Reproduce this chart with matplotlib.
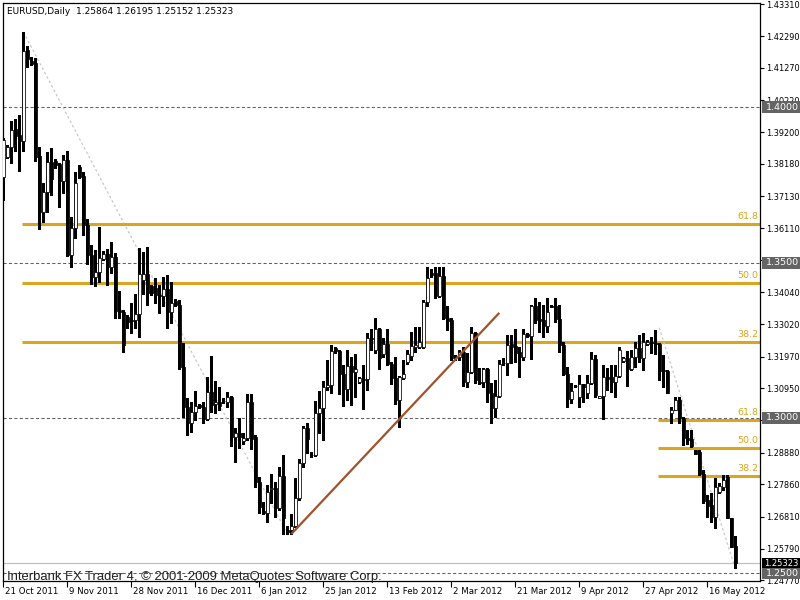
import numpy as np
import matplotlib
matplotlib.use("Agg")
import matplotlib.pyplot as plt
from matplotlib.patches import Rectangle
from matplotlib.transforms import blended_transform_factory

# EURUSD daily bars, 21 Oct 2011 .. 18 May 2012
opens = [
    1.3775, 1.3840, 1.3872, 1.3930, 1.3911, 1.3891, 1.4185, 1.4149, 1.4143, 1.3843,
    1.3663, 1.3727, 1.3824, 1.3827, 1.3817, 1.3762, 1.3830, 1.3524, 1.3611, 1.3808,
    1.3779, 1.3620, 1.3524, 1.3454, 1.3470, 1.3512, 1.3527, 1.3486, 1.3518, 1.3347,
    1.3341, 1.3325, 1.3315, 1.3315, 1.3335, 1.3444, 1.3463, 1.3424, 1.3418, 1.3396,
    1.3392, 1.3415, 1.3341, 1.3376, 1.3364, 1.3164, 1.3035, 1.2983, 1.3019, 1.3041,
    1.3035, 1.2996, 1.3083, 1.3045, 1.3051, 1.3054, 1.3051, 1.3067, 1.2938, 1.2951,
    1.2925, 1.2935, 1.3051, 1.2938, 1.2793, 1.2700, 1.2694, 1.2771, 1.2774, 1.2710,
    1.2813, 1.2639, 1.2639, 1.2652, 1.2742, 1.2855, 1.2967, 1.2880, 1.2880, 1.3016,
    1.3032, 1.3099, 1.3106, 1.3225, 1.3215, 1.3141, 1.3093, 1.3167, 1.3147, 1.3115,
    1.3125, 1.3125, 1.3257, 1.3218, 1.3286, 1.3206, 1.3238, 1.3173, 1.3128, 1.3057,
    1.3128, 1.3180, 1.3199, 1.3228, 1.3228, 1.3228, 1.3373, 1.3467, 1.3467, 1.3392,
    1.3458, 1.3322, 1.3315, 1.3196, 1.3196, 1.3212, 1.3115, 1.3147, 1.3273, 1.3115,
    1.3115, 1.3157, 1.3080, 1.3032, 1.3070, 1.3177, 1.3177, 1.3238, 1.3231, 1.3212,
    1.3196, 1.3270, 1.3264, 1.3360, 1.3318, 1.3315, 1.3296, 1.3361, 1.3360, 1.3318,
    1.3234, 1.3141, 1.3061, 1.3103, 1.3067, 1.3109, 1.3080, 1.3112, 1.3190, 1.3064,
    1.3070, 1.3131, 1.3131, 1.3115, 1.3135, 1.3183, 1.3193, 1.3157, 1.3196, 1.3225,
    1.3193, 1.3238, 1.3244, 1.3241, 1.3238, 1.3154, 1.3151, 1.3015, 1.3025, 1.3057,
    1.2999, 1.2935, 1.2932, 1.2896, 1.2891, 1.2818, 1.2735, 1.2719, 1.2681, 1.2761,
    1.2777, 1.2809, 1.2677, 1.25864,
]
highs = [
    1.3901, 1.3879, 1.3956, 1.3963, 1.3975, 1.4242, 1.4196, 1.4162, 1.4158, 1.3872,
    1.3756, 1.3856, 1.3869, 1.3833, 1.3820, 1.3846, 1.3859, 1.3647, 1.3792, 1.3814,
    1.3792, 1.3641, 1.3557, 1.3540, 1.3614, 1.3537, 1.3544, 1.3566, 1.3531, 1.3407,
    1.3347, 1.3331, 1.3370, 1.3399, 1.3547, 1.3534, 1.3550, 1.3428, 1.3450, 1.3428,
    1.3454, 1.3460, 1.3437, 1.3383, 1.3379, 1.3241, 1.3064, 1.3051, 1.3086, 1.3045,
    1.3051, 1.3131, 1.3199, 1.3119, 1.3099, 1.3064, 1.3083, 1.3070, 1.2967, 1.2999,
    1.2951, 1.3077, 1.3077, 1.2945, 1.2809, 1.2729, 1.2784, 1.2819, 1.2793, 1.2842,
    1.2880, 1.2652, 1.2690, 1.2806, 1.2868, 1.2974, 1.2983, 1.2891, 1.3054, 1.3086,
    1.3119, 1.3186, 1.3234, 1.3228, 1.3218, 1.3170, 1.3218, 1.3196, 1.3206, 1.3131,
    1.3170, 1.3273, 1.3286, 1.3322, 1.3289, 1.3257, 1.3286, 1.3180, 1.3196, 1.3135,
    1.3186, 1.3218, 1.3276, 1.3292, 1.3292, 1.3379, 1.3486, 1.3479, 1.3486, 1.3486,
    1.3486, 1.3360, 1.3322, 1.3202, 1.3218, 1.3228, 1.3209, 1.3292, 1.3276, 1.3160,
    1.3160, 1.3160, 1.3112, 1.3122, 1.3186, 1.3193, 1.3267, 1.3267, 1.3286, 1.3228,
    1.3286, 1.3273, 1.3364, 1.3386, 1.3373, 1.3364, 1.3386, 1.3364, 1.3386, 1.3364,
    1.3244, 1.3164, 1.3112, 1.3106, 1.3138, 1.3109, 1.3138, 1.3212, 1.3202, 1.3070,
    1.3170, 1.3160, 1.3170, 1.3170, 1.3228, 1.3196, 1.3215, 1.3218, 1.3244, 1.3267,
    1.3273, 1.3251, 1.3260, 1.3283, 1.3241, 1.3202, 1.3154, 1.3035, 1.3067, 1.3067,
    1.3003, 1.2960, 1.2960, 1.2896, 1.2896, 1.2832, 1.2752, 1.2758, 1.2806, 1.2790,
    1.2815, 1.2815, 1.2677, 1.26195,
]
lows = [
    1.3701, 1.3837, 1.3820, 1.3859, 1.3795, 1.3859, 1.4130, 1.4136, 1.3827, 1.3608,
    1.3631, 1.3663, 1.3718, 1.3804, 1.3679, 1.3724, 1.3521, 1.3486, 1.3579, 1.3772,
    1.3589, 1.3495, 1.3431, 1.3424, 1.3437, 1.3508, 1.3428, 1.3467, 1.3322, 1.3322,
    1.3212, 1.3289, 1.3273, 1.3289, 1.3260, 1.3399, 1.3364, 1.3396, 1.3370, 1.3337,
    1.3360, 1.3289, 1.3305, 1.3360, 1.3157, 1.3003, 1.2945, 1.2955, 1.2993, 1.3032,
    1.2983, 1.2993, 1.3019, 1.3016, 1.3025, 1.3048, 1.3035, 1.2909, 1.2858, 1.2903,
    1.2916, 1.2928, 1.2900, 1.2777, 1.2694, 1.2690, 1.2665, 1.2726, 1.2681, 1.2703,
    1.2626, 1.2626, 1.2626, 1.2648, 1.2735, 1.2842, 1.2887, 1.2874, 1.2877, 1.2951,
    1.2928, 1.3090, 1.3080, 1.3209, 1.3077, 1.3038, 1.3057, 1.3041, 1.3067, 1.3112,
    1.3029, 1.3090, 1.3218, 1.3209, 1.3157, 1.3196, 1.3170, 1.3109, 1.3045, 1.2970,
    1.3125, 1.3173, 1.3186, 1.3212, 1.3225, 1.3225, 1.3360, 1.3454, 1.3386, 1.3389,
    1.3318, 1.3283, 1.3186, 1.3186, 1.3186, 1.3103, 1.3099, 1.3145, 1.3112, 1.3109,
    1.3099, 1.3051, 1.2982, 1.3003, 1.3067, 1.3170, 1.3138, 1.3177, 1.3180, 1.3131,
    1.3186, 1.3260, 1.3190, 1.3305, 1.3276, 1.3260, 1.3276, 1.3357, 1.3309, 1.3212,
    1.3138, 1.3035, 1.3048, 1.3099, 1.3035, 1.3051, 1.3064, 1.3109, 1.3067, 1.3064,
    1.2996, 1.3090, 1.3083, 1.3067, 1.3131, 1.3180, 1.3103, 1.3154, 1.3164, 1.3180,
    1.3154, 1.3234, 1.3209, 1.3206, 1.3122, 1.3099, 1.3080, 1.2982, 1.3025, 1.2983,
    1.2913, 1.2916, 1.2906, 1.2884, 1.2815, 1.2726, 1.2681, 1.2665, 1.2644, 1.2758,
    1.2768, 1.2677, 1.2584, 1.25152,
]
closes = [
    1.3895, 1.3872, 1.3927, 1.3907, 1.3891, 1.4181, 1.4155, 1.4139, 1.3840, 1.3663,
    1.3727, 1.3824, 1.3769, 1.3814, 1.3762, 1.3830, 1.3524, 1.3611, 1.3756, 1.3775,
    1.3620, 1.3524, 1.3454, 1.3470, 1.3515, 1.3527, 1.3486, 1.3518, 1.3344, 1.3341,
    1.3234, 1.3309, 1.3313, 1.3335, 1.3463, 1.3463, 1.3401, 1.3402, 1.3396, 1.3392,
    1.3415, 1.3341, 1.3370, 1.3364, 1.3164, 1.3035, 1.2983, 1.3019, 1.3038, 1.3035,
    1.2996, 1.3083, 1.3041, 1.3051, 1.3038, 1.3053, 1.3067, 1.2938, 1.2951, 1.2938,
    1.2935, 1.3051, 1.2932, 1.2793, 1.2713, 1.2694, 1.2761, 1.2774, 1.2710, 1.2813,
    1.2677, 1.2632, 1.2652, 1.2742, 1.2855, 1.2967, 1.2932, 1.2879, 1.3016, 1.3032,
    1.3099, 1.3106, 1.3215, 1.3215, 1.3141, 1.3093, 1.3167, 1.3147, 1.3157, 1.3128,
    1.3123, 1.3257, 1.3254, 1.3286, 1.3193, 1.3238, 1.3173, 1.3128, 1.3057, 1.3131,
    1.3141, 1.3206, 1.3231, 1.3234, 1.3244, 1.3373, 1.3450, 1.3460, 1.3392, 1.3458,
    1.3322, 1.3312, 1.3193, 1.3195, 1.3212, 1.3115, 1.3147, 1.3273, 1.3122, 1.3112,
    1.3157, 1.3080, 1.3032, 1.3070, 1.3173, 1.3178, 1.3234, 1.3228, 1.3209, 1.3196,
    1.3270, 1.3264, 1.3360, 1.3315, 1.3312, 1.3296, 1.3341, 1.3357, 1.3318, 1.3234,
    1.3141, 1.3061, 1.3086, 1.3101, 1.3109, 1.3099, 1.3112, 1.3190, 1.3073, 1.3070,
    1.3131, 1.3125, 1.3115, 1.3135, 1.3218, 1.3193, 1.3157, 1.3196, 1.3225, 1.3193,
    1.3244, 1.3244, 1.3241, 1.3238, 1.3151, 1.3151, 1.3080, 1.3025, 1.3057, 1.2999,
    1.2935, 1.2928, 1.2909, 1.2884, 1.2818, 1.2732, 1.2716, 1.2681, 1.2777, 1.2780,
    1.2799, 1.2677, 1.2584, 1.25323,
]

date_labels = ["21 Oct 2011", "9 Nov 2011", "28 Nov 2011", "16 Dec 2011", "6 Jan 2012",
               "25 Jan 2012", "13 Feb 2012", "2 Mar 2012", "21 Mar 2012", "9 Apr 2012",
               "27 Apr 2012", "16 May 2012"]
date_step = 16  # bars between date labels

price_ticks = [1.43310, 1.42290, 1.41270, 1.40220, 1.39200, 1.38180, 1.37130, 1.36110,
               1.35090, 1.34040, 1.33020, 1.31970, 1.30950, 1.29930, 1.28880, 1.27860,
               1.26810, 1.25790, 1.24770]
hidden_ticks = [1.35090, 1.29930]  # labels sit under the level boxes
round_levels = [1.4000, 1.3500, 1.3000, 1.2500]
bid = 1.25323

# fibonacci retracements: (bar, price) of the swing high and swing low
fib_ratios = [0.382, 0.500, 0.618]
fib1_high = (5, 1.4242)
fib1_low = (71, 1.2626)
fib2_high = (164, 1.3290)
fib2_low = (183, 1.25152)

# hand-drawn trendline (bar, price)
trend_start = (72, 1.2626)
trend_end = (124, 1.3338)

GOLD = "#DAA520"
FONT = "DejaVu Sans"
XLIM = (-0.25, 189.2)
YLIM = (1.24746, 1.43374)

O, H, L, C = map(np.array, (opens, highs, lows, closes))
x = np.arange(len(O))

fig = plt.figure(figsize=(8, 6), dpi=100)
ax = fig.add_axes([2.5 / 800, 19 / 600, 757.5 / 800, 578.5 / 600])
ax.set_facecolor("white")

# round-number levels and the bid line
for lvl in round_levels:
    ax.axhline(lvl, color="#606060", lw=0.75, dashes=(3, 2.2), zorder=1)
ax.axhline(bid, color="#c0c0c0", lw=0.9, zorder=1)

# fibonacci objects
for hi, lo in ((fib1_high, fib1_low), (fib2_high, fib2_low)):
    ax.plot([hi[0], lo[0]], [hi[1], lo[1]], color="#c8c8c8", lw=0.9,
            dashes=(2, 2), zorder=2)
    rng = hi[1] - lo[1]
    for r in fib_ratios:
        lvl = lo[1] + r * rng
        ax.plot([hi[0] - 0.3, 200], [lvl, lvl], color=GOLD, lw=2.2,
                solid_capstyle="butt", zorder=2)
        ax.text(188.8, lvl + 0.0010, f"{r * 100:.1f}", color=GOLD, fontsize=6.8,
                family=FONT, ha="right", va="bottom", zorder=2)

# trendline
ax.plot([trend_start[0], trend_end[0]], [trend_start[1], trend_end[1]],
        color="#A0522D", lw=1.6, solid_capstyle="butt", zorder=5)

# candles
up = C >= O
ax.vlines(x, L, H, color="black", lw=0.75, antialiased=False, zorder=3)
body_lo = np.minimum(O, C)
body_h = np.maximum(np.abs(C - O), 0.00004)
ax.bar(x, body_h, bottom=body_lo, width=0.72,
       color=np.where(up, "white", "black"), edgecolor="black",
       linewidth=0.55, zorder=4)

# right price axis
ax.yaxis.tick_right()
ax.set_yticks(price_ticks)
ax.set_yticklabels(["" if v in hidden_ticks else f"{v:.5f}" for v in price_ticks])
ax.tick_params(axis="y", length=3, width=0.8, pad=1.5, labelsize=5.9, colors="black")
for t in ax.get_yticklabels():
    t.set_family(FONT)

# bottom date axis
ax.set_xticks(x[::date_step][:len(date_labels)])
ax.set_xticklabels([])
ax.tick_params(axis="x", length=4, width=0.8)
xb = blended_transform_factory(ax.transData, ax.transAxes)
for i, lab in enumerate(date_labels):
    ax.text(i * date_step + 0.4, -0.0185, lab, transform=xb, fontsize=6.2, family=FONT,
            ha="left", va="center", clip_on=False)

for s in ax.spines.values():
    s.set_linewidth(0.9)
    s.set_color("black")

# price boxes on the axis
yb = blended_transform_factory(fig.transFigure, ax.transData)
box_h = 0.0039
for lvl in round_levels:
    ax.add_patch(Rectangle((762 / 800, lvl - box_h / 2), 38 / 800, box_h, transform=yb,
                           facecolor="#646464", edgecolor="none", clip_on=False, zorder=10))
    ax.text(766 / 800, lvl, f"{lvl:.4f}", transform=yb, color="white", fontsize=6.8,
            family=FONT, va="center", ha="left", clip_on=False, zorder=11)
bid_h = 0.0033
ax.add_patch(Rectangle((762 / 800, bid - bid_h / 2), 38 / 800, bid_h, transform=yb,
                       facecolor="black", edgecolor="none", clip_on=False, zorder=12))
ax.text(764 / 800, bid, f"{bid:.5f}", transform=yb, color="white", fontsize=6.0,
        family=FONT, va="center", ha="left", clip_on=False, zorder=13)

ax.set_xlim(*XLIM)
ax.set_ylim(*YLIM)

# header and footer texts
fig.text(7 / 800, 1 - 11 / 600,
         f"EURUSD,Daily  {O[-1]:.5f} {H[-1]:.5f} {L[-1]:.5f} {C[-1]:.5f}",
         fontsize=6.5, family=FONT, va="center", ha="left")
fig.text(7 / 800, 1 - 577 / 600,
         "Interbank FX Trader 4, \u00a9 2001-2009 MetaQuotes Software Corp.",
         fontsize=9.4, family="Liberation Sans", color="#202020", va="center", ha="left")

fig.savefig("out.png", dpi=100, facecolor="white")
